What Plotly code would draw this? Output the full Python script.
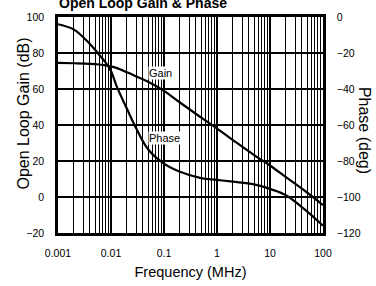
import plotly.graph_objects as go

freq_mhz = [0.001, 0.002, 0.004, 0.006, 0.008, 0.01, 0.013, 0.02, 0.03, 0.05,
            0.1, 0.2, 0.5, 1, 2, 5, 10, 20, 50, 100]
gain_db = [74.5, 74.3, 74.0, 73.6, 73.1, 72.5, 71.6, 69.3, 67.0, 64.0,
           59.0, 52.5, 44.2, 38.0, 31.6, 23.3, 17.5, 11.0, 2.5, -4.5]
phase_deg = [-4, -7, -15, -21, -25.5, -30, -39, -51, -62, -73.5,
             -81.5, -86, -89.5, -90.5, -91.5, -93, -95.5, -99, -108, -116]

x_tickvals = [0.001, 0.01, 0.1, 1, 10, 100]
x_ticktext = ["0.001", "0.01", "0.1", "1", "10", "100"]
gain_ticks = [-20, 0, 20, 40, 60, 80, 100]
phase_ticks = [-120, -100, -80, -60, -40, -20, 0]

FONT = "Liberation Sans"
CLEAR = "rgba(0,0,0,0)"

fig = go.Figure()
fig.add_trace(go.Scatter(x=freq_mhz, y=gain_db, mode="lines", line=dict(color="black", width=2.2, shape="spline"),
                         showlegend=False, yaxis="y", hoverinfo="skip"))
fig.add_trace(go.Scatter(x=freq_mhz, y=phase_deg, mode="lines", line=dict(color="black", width=2.2, shape="spline"),
                         showlegend=False, yaxis="y2", hoverinfo="skip"))

fig.update_layout(
    width=376, height=286,
    margin=dict(l=58, r=53, t=17, b=53, autoexpand=False),
    paper_bgcolor="white", plot_bgcolor="white",
    font=dict(family=FONT, color="black"),
    xaxis=dict(type="log", range=[-3, 2], tickvals=x_tickvals, ticktext=x_ticktext,
               showgrid=True, gridcolor="black", gridwidth=1.6,
               minor=dict(showgrid=True, gridcolor="black", gridwidth=1.2, dtick="D1"),
               showline=True, linecolor="black", linewidth=2.5, mirror=True,
               ticks="outside", ticklen=9, tickcolor=CLEAR, automargin=False,
               tickfont=dict(size=10.5, family=FONT),
               title=dict(text="Frequency (MHz)", font=dict(size=14.5, family=FONT), standoff=9),
               zeroline=False),
    yaxis=dict(range=[-20, 100], tickvals=gain_ticks,
               showgrid=True, gridcolor="black", gridwidth=2,
               showline=True, linecolor="black", linewidth=2.5, mirror=True,
               ticks="outside", ticklen=9, tickcolor=CLEAR, automargin=False,
               tickfont=dict(size=10.5, family=FONT), zeroline=False),
    yaxis2=dict(range=[-120, 0], tickvals=phase_ticks, overlaying="y", side="right",
                showgrid=False, showline=True, linecolor="black", linewidth=2.5,
                ticks="outside", ticklen=9, tickcolor=CLEAR, automargin=False,
                tickfont=dict(size=10.5, family=FONT), zeroline=False),
    annotations=[
        dict(text="<b>Open Loop Gain & Phase</b>", xref="paper", yref="paper", x=-0.005, y=1.02,
             xanchor="left", yanchor="bottom", showarrow=False, font=dict(size=14, family=FONT)),
        dict(text="Open Loop Gain (dB)", xref="paper", yref="paper", x=-0.130, y=0.551,
             xanchor="center", yanchor="middle",
             textangle=-90, showarrow=False, font=dict(size=16, family=FONT)),
        dict(text="Phase (deg)", xref="paper", yref="paper", x=1.155, y=0.477,
             xanchor="center", yanchor="middle",
             textangle=90, showarrow=False, font=dict(size=16, family=FONT)),
        dict(text="Gain", x=-1.075, y=69, xref="x", yref="y", showarrow=False,
             xanchor="center", yanchor="middle",
             bgcolor="white", font=dict(size=11, family=FONT), borderpad=0),
        dict(text="Phase", x=-1.0, y=33, xref="x", yref="y", showarrow=False,
             xanchor="center", yanchor="middle",
             bgcolor="white", font=dict(size=11, family=FONT), borderpad=0),
    ],
)

fig.write_html("out.html", config={"displayModeBar": False},
               post_script="document.body.style.margin='0';document.body.style.overflow='hidden';")
